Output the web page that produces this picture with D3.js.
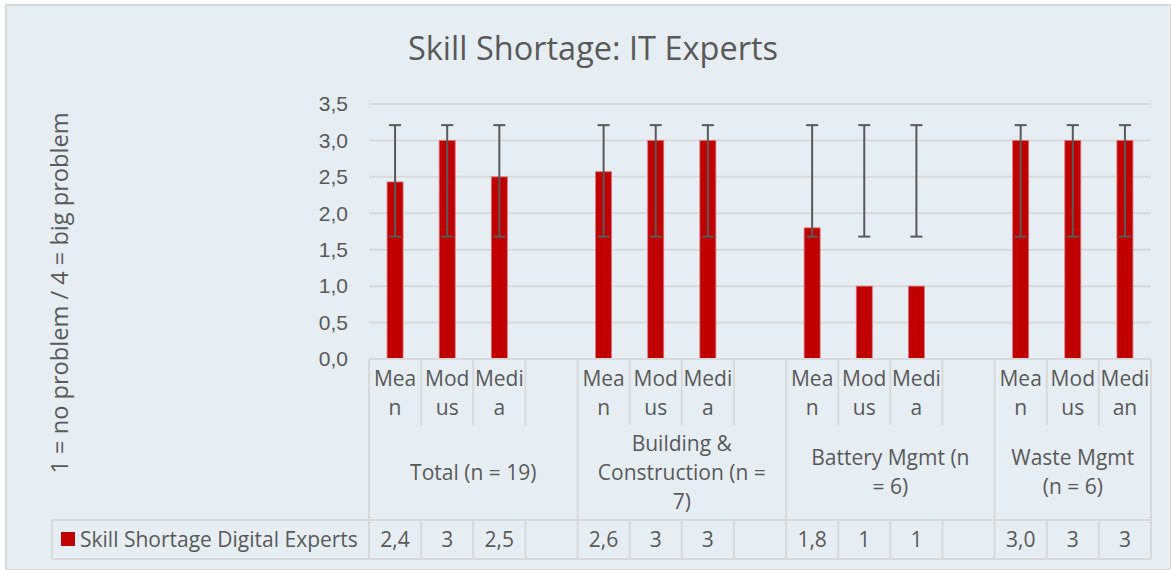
<!DOCTYPE html>
<html>
<head>
<meta charset="utf-8">
<script src="https://cdn.jsdelivr.net/npm/d3@7"></script>
<style>
  body { margin: 0; background: #fff; }
  svg { display: block; font-family: "Open Sans", sans-serif; }
</style>
</head>
<body>
<svg id="chart"></svg>
<script>
// data
const categories = ['Mean', 'Modus', 'Median', '', 'Mean', 'Modus', 'Median', '', 'Mean', 'Modus', 'Median', '', 'Mean', 'Modus', 'Median']
const catLines = [['Mea', 'n'], ['Mod', 'us'], ['Medi', 'a'], [], ['Mea', 'n'], ['Mod', 'us'], ['Medi', 'a'], [],
    ['Mea', 'n'], ['Mod', 'us'], ['Medi', 'a'], [], ['Mea', 'n'], ['Mod', 'us'], ['Medi', 'an']]
const groups = ['Total (n = 19)', 'Building & Construction (n = 7)', 'Battery Mgmt (n = 6)', 'Waste Mgmt (n = 6)']
const groupLines = [['Total (n = 19)'], ['Building &', 'Construction (n =', '7)'], ['Battery Mgmt (n', '= 6)'], ['Waste Mgmt', '(n = 6)']]
const groupSlots = [[0, 3], [4, 7], [8, 11], [12, 14]]
const values = [2.43, 3, 2.5, null, 2.57, 3, 3, null, 1.8, 1, 1, null, 3.0, 3, 3]
const tableLabels = ['2,4', '3', '2,5', '', '2,6', '3', '3', '', '1,8', '1', '1', '', '3,0', '3', '3']
const errLow = [1.68, 1.68, 1.68, null, 1.68, 1.68, 1.68, null, 1.68, 1.68, 1.68, null, 1.68, 1.68, 1.68]
const errHigh = [3.21, 3.21, 3.21, null, 3.21, 3.21, 3.21, null, 3.21, 3.21, 3.21, null, 3.21, 3.21, 3.21]
const yTicks = [0, 0.5, 1, 1.5, 2, 2.5, 3, 3.5]
const seriesName = 'Skill Shortage Digital Experts'

const width = 1171, height = 570
const plot = { left: 369, right: 1151, top: 104, bottom: 359 }
const rowSub = 425, rowGroup = 520, rowData = 559
const textColor = '#595959', lineColor = '#d9d9d9', barColor = '#c00000'
const fs = 21

const svg = d3.select('#chart').attr('width', width).attr('height', height)

svg.append('rect').attr('x', 6).attr('y', 5).attr('width', width - 6).attr('height', height - 5)
    .attr('fill', '#e6eef4').attr('stroke', lineColor).attr('stroke-width', 2)

const x = d3.scaleBand().domain(d3.range(categories.length)).range([plot.left, plot.right]).padding(0)
const y = d3.scaleLinear().domain([0, 3.5]).range([plot.bottom, plot.top])
const bw = 16

// title
svg.append('text').attr('x', 593).attr('y', 60).attr('text-anchor', 'middle')
    .attr('font-size', 32.5).attr('fill', textColor).text('Skill Shortage: IT Experts')

// y axis title
svg.append('text').attr('transform', 'translate(68,293) rotate(-90)').attr('text-anchor', 'middle')
    .attr('font-size', 23.6).attr('fill', textColor).text('1 = no problem / 4 = big problem')

// gridlines
svg.append('g').selectAll('line').data(yTicks.slice(1)).join('line')
    .attr('x1', plot.left).attr('x2', plot.right)
    .attr('y1', d => y(d)).attr('y2', d => y(d))
    .attr('stroke', lineColor).attr('stroke-width', 2)

// y axis
const yAxis = svg.append('g').attr('transform', `translate(${plot.left},0)`)
    .call(d3.axisLeft(y).tickValues(yTicks).tickSize(0).tickPadding(21)
        .tickFormat(d => d3.format('.1f')(d).replace('.', ',')))
yAxis.select('.domain').remove()
yAxis.selectAll('text').attr('font-size', fs).attr('fill', textColor).attr('font-family', null)

// bars
svg.append('g').selectAll('rect').data(values.map((v, i) => ({ v, i })).filter(d => d.v != null)).join('rect')
    .attr('x', d => x(d.i) + x.bandwidth() / 2 - bw / 2)
    .attr('y', d => y(d.v))
    .attr('width', bw)
    .attr('height', d => y(0) - y(d.v))
    .attr('fill', barColor).attr('stroke', '#d9737a').attr('stroke-width', 0.8)

// error bars
const errs = errLow.map((lo, i) => ({ lo, hi: errHigh[i], i })).filter(d => d.lo != null)
const eg = svg.append('g').attr('stroke', '#595959').attr('stroke-width', 2)
eg.selectAll('.stem').data(errs).join('line').attr('class', 'stem')
    .attr('x1', d => x(d.i) + x.bandwidth() / 2).attr('x2', d => x(d.i) + x.bandwidth() / 2)
    .attr('y1', d => y(d.lo)).attr('y2', d => y(d.hi))
eg.selectAll('.capHi').data(errs).join('line').attr('class', 'capHi')
    .attr('x1', d => x(d.i) + x.bandwidth() / 2 - 6).attr('x2', d => x(d.i) + x.bandwidth() / 2 + 6)
    .attr('y1', d => y(d.hi)).attr('y2', d => y(d.hi))
eg.selectAll('.capLo').data(errs).join('line').attr('class', 'capLo')
    .attr('x1', d => x(d.i) + x.bandwidth() / 2 - 6).attr('x2', d => x(d.i) + x.bandwidth() / 2 + 6)
    .attr('y1', d => y(d.lo)).attr('y2', d => y(d.lo))

// data table / category axis
const tg = svg.append('g').attr('stroke', lineColor).attr('stroke-width', 2)
tg.append('line').attr('x1', plot.left).attr('x2', plot.right).attr('y1', plot.bottom).attr('y2', plot.bottom)
tg.append('line').attr('x1', 52).attr('x2', plot.right).attr('y1', rowGroup).attr('y2', rowGroup)
tg.append('line').attr('x1', 52).attr('x2', plot.right).attr('y1', rowData).attr('y2', rowData)
tg.append('line').attr('x1', 52).attr('x2', 52).attr('y1', rowGroup).attr('y2', rowData)
const groupEdges = new Set(groupSlots.map(g => g[0]).concat([categories.length]))
d3.range(categories.length + 1).forEach(i => {
    const xx = i < categories.length ? x(i) : plot.right
    if (groupEdges.has(i)) {
        tg.append('line').attr('x1', xx).attr('x2', xx).attr('y1', plot.bottom).attr('y2', rowData)
    } else {
        tg.append('line').attr('x1', xx).attr('x2', xx).attr('y1', plot.bottom).attr('y2', rowSub)
        tg.append('line').attr('x1', xx).attr('x2', xx).attr('y1', rowGroup).attr('y2', rowData)
    }
})

const labels = svg.append('g').attr('fill', textColor).attr('font-size', fs).attr('text-anchor', 'middle')
catLines.forEach((lines, i) => {
    lines.forEach((t, k) => {
        labels.append('text').attr('x', x(i) + x.bandwidth() / 2).attr('y', 386 + k * 29).text(t)
    })
})
groupLines.forEach((lines, g) => {
    const [a, b] = groupSlots[g]
    const x0 = x(a), x1 = b === categories.length - 1 ? plot.right : x(b) + x.bandwidth()
    const mid = (rowSub + rowGroup) / 2
    lines.forEach((t, k) => {
        labels.append('text').attr('x', (x0 + x1) / 2)
            .attr('y', mid + 7 + (k - (lines.length - 1) / 2) * 29).text(t)
    })
})
tableLabels.forEach((t, i) => {
    labels.append('text').attr('x', x(i) + x.bandwidth() / 2).attr('y', 547).text(t)
})

// legend key in table
svg.append('rect').attr('x', 61).attr('y', 532).attr('width', 14).attr('height', 14).attr('fill', barColor)
svg.append('text').attr('x', 80).attr('y', 547).attr('font-size', fs).attr('fill', textColor).text(seriesName)
</script>
</body>
</html>
